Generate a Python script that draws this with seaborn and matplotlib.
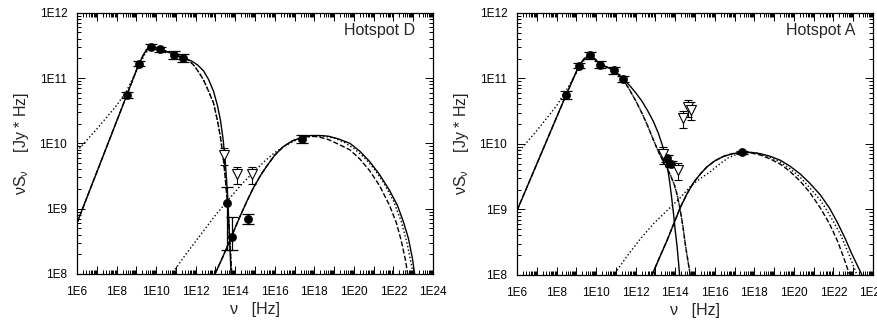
import numpy as np
import matplotlib
matplotlib.use("Agg")
import matplotlib.pyplot as plt
import matplotlib.ticker as mticker
import pandas as pd
import seaborn as sns

# ---- Hotspot D (log10 nu, log10 nuS_nu) ----
d_pts_x = [8.52, 9.13, 9.73, 10.21, 10.91, 11.38, 13.58, 13.82, 14.63, 17.37]
d_pts_y = [10.74, 11.22, 11.48, 11.44, 11.35, 11.31, 9.09, 8.57, 8.84, 10.07]
d_pts_up = [0.05, 0.04, 0.04, 0.04, 0.06, 0.06, 0.24, 0.30, 0.08, 0.06]
d_pts_lo = [0.05, 0.04, 0.04, 0.04, 0.06, 0.06, 0.72, 0.20, 0.08, 0.06]
d_lim_x = [13.42, 14.11, 14.83]
d_lim_y = [9.82, 9.53, 9.53]

d_sync_solid_x = [6.00, 8.52, 9.13, 9.40, 9.60, 9.75, 9.95, 10.21, 10.60, 10.91, 11.38, 11.80,
                  12.10, 12.40, 12.65, 12.90, 13.10, 13.25, 13.38, 13.48, 13.56, 13.63, 13.71, 13.79]
d_sync_solid_y = [8.78, 10.74, 11.22, 11.38, 11.46, 11.49, 11.47, 11.44, 11.40, 11.36, 11.31, 11.26,
                  11.20, 11.11, 10.98, 10.80, 10.58, 10.36, 10.08, 9.78, 9.45, 9.10, 8.55, 8.00]
d_sync_dash_x = [6.00, 8.52, 9.13, 9.40, 9.60, 9.75, 9.95, 10.21, 10.60, 10.91, 11.38, 11.63,
                 11.95, 12.20, 12.40, 12.65, 12.90, 13.10, 13.25, 13.38, 13.48, 13.58, 13.66,
                 13.74, 13.82]
d_sync_dash_y = [8.78, 10.74, 11.22, 11.38, 11.46, 11.49, 11.47, 11.44, 11.40, 11.36, 11.31, 11.28,
                 11.18, 11.07, 10.97, 10.80, 10.62, 10.35, 10.10, 9.82, 9.52, 9.18, 8.85,
                 8.45, 8.00]
d_sync_dot_x = [6.00, 7.00, 8.00, 8.50, 9.00, 9.40, 9.75, 9.95, 10.21, 10.60, 10.91, 11.38, 11.63,
                11.95, 12.20, 12.40, 12.65, 12.90, 13.10, 13.25, 13.38, 13.48, 13.58, 13.66,
                13.74, 13.82]
d_sync_dot_y = [9.88, 10.22, 10.58, 10.80, 11.10, 11.35, 11.49, 11.47, 11.44, 11.40, 11.36, 11.31,
                11.28, 11.18, 11.07, 10.97, 10.80, 10.62, 10.35, 10.10, 9.82, 9.52, 9.18, 8.85,
                8.45, 8.00]
d_ic_solid_x = [12.98, 13.40, 13.79, 14.24, 14.60, 14.92, 15.30, 15.59, 16.00, 16.43, 16.90, 17.37,
                17.80, 18.28, 18.70, 19.20, 19.80, 20.30, 20.80, 21.30, 21.80, 22.20, 22.50,
                22.75, 22.95, 23.07]
d_ic_solid_y = [8.00, 8.28, 8.56, 8.88, 9.12, 9.32, 9.52, 9.65, 9.82, 9.95, 10.04, 10.09,
                10.12, 10.12, 10.11, 10.07, 10.00, 9.88, 9.72, 9.52, 9.28, 9.05, 8.80,
                8.55, 8.25, 8.00]
d_ic_dash_x = [12.98, 13.40, 13.79, 14.24, 14.60, 14.92, 15.30, 15.59, 16.00, 16.43, 16.90, 17.37,
               17.80, 18.20, 18.70, 19.20, 19.80, 20.30, 20.80, 21.30, 21.80, 22.15, 22.40,
               22.60, 22.72]
d_ic_dash_y = [8.00, 8.28, 8.56, 8.88, 9.12, 9.32, 9.52, 9.65, 9.82, 9.95, 10.04, 10.09,
               10.11, 10.10, 10.06, 9.99, 9.90, 9.76, 9.58, 9.35, 9.05, 8.78, 8.50,
               8.22, 8.00]
d_ic_dot_x = [10.96, 11.50, 12.00, 12.50, 13.00, 13.50, 14.00, 14.50, 15.00, 15.50, 16.00, 16.50,
              17.00, 17.50, 18.00, 18.50, 19.00, 19.50, 20.00, 20.50, 21.00, 21.50, 22.00,
              22.40, 22.70, 22.90, 23.00]
d_ic_dot_y = [8.07, 8.30, 8.50, 8.70, 8.90, 9.08, 9.26, 9.43, 9.58, 9.73, 9.86, 9.96,
              10.04, 10.09, 10.11, 10.11, 10.08, 10.02, 9.92, 9.79, 9.62, 9.40, 9.12,
              8.80, 8.45, 8.15, 8.00]

# ---- Hotspot A ----
a_pts_x = [8.49, 9.13, 9.71, 10.18, 10.92, 11.36, 13.58, 13.80, 17.39]
a_pts_y = [10.75, 11.19, 11.35, 11.21, 11.12, 10.99, 9.78, 9.69, 9.87]
a_pts_up = [0.06, 0.04, 0.05, 0.05, 0.05, 0.05, 0.05, 0.05, 0.02]
a_pts_lo = [0.06, 0.04, 0.05, 0.05, 0.05, 0.05, 0.05, 0.05, 0.02]
a_lim_x = [13.38, 14.12, 14.39, 14.63, 14.80]
a_lim_y = [9.84, 9.60, 10.39, 10.56, 10.52]

a_sync_solid_x = [6.00, 8.49, 9.13, 9.40, 9.71, 9.95, 10.18, 10.92, 11.36, 11.70, 12.00, 12.30,
                  12.60, 12.90, 13.15, 13.35, 13.50, 13.62, 13.72, 13.82, 13.92, 14.00, 14.09,
                  14.16, 14.22]
a_sync_solid_y = [8.98, 10.75, 11.19, 11.30, 11.36, 11.29, 11.22, 11.12, 10.99, 10.89, 10.78, 10.66,
                  10.51, 10.34, 10.16, 9.98, 9.82, 9.62, 9.42, 9.18, 8.92, 8.68, 8.45,
                  8.22, 8.00]
a_sync_dash_x = [6.00, 8.49, 9.13, 9.40, 9.71, 9.95, 10.18, 10.92, 11.36, 11.70, 12.00, 12.30,
                 12.60, 12.90, 13.15, 13.35, 13.55, 13.75, 13.95, 14.10, 14.25, 14.40, 14.52,
                 14.65, 14.76]
a_sync_dash_y = [8.98, 10.75, 11.19, 11.30, 11.36, 11.29, 11.22, 11.12, 10.99, 10.82, 10.66, 10.48,
                 10.28, 10.06, 9.88, 9.76, 9.65, 9.53, 9.38, 9.22, 9.00, 8.72, 8.45,
                 8.20, 8.00]
a_sync_dot_x = [6.00, 7.00, 8.00, 8.50, 9.00, 9.40, 9.71, 9.95, 10.18, 10.92, 11.36, 11.70, 12.00,
                12.30, 12.60, 12.90, 13.15, 13.35, 13.55, 13.75, 13.95, 14.10, 14.25, 14.40,
                14.52, 14.65, 14.76]
a_sync_dot_y = [9.85, 10.20, 10.58, 10.82, 11.08, 11.28, 11.36, 11.29, 11.22, 11.12, 10.99, 10.82,
                10.66, 10.48, 10.28, 10.06, 9.88, 9.76, 9.65, 9.53, 9.38, 9.22, 9.00, 8.72,
                8.45, 8.20, 8.00]
a_ic_solid_x = [12.83, 13.20, 13.58, 13.90, 14.26, 14.60, 14.93, 15.30, 15.61, 16.00, 16.45, 16.90,
                17.39, 17.85, 18.30, 18.80, 19.31, 19.80, 20.32, 20.80, 21.34, 21.80, 22.20,
                22.60, 22.90, 23.20, 23.44]
a_ic_solid_y = [8.00, 8.26, 8.52, 8.76, 9.03, 9.24, 9.41, 9.55, 9.65, 9.74, 9.81, 9.85,
                9.87, 9.87, 9.85, 9.81, 9.75, 9.66, 9.54, 9.40, 9.22, 9.02, 8.80,
                8.55, 8.34, 8.15, 8.00]
a_ic_dash_x = [12.83, 13.20, 13.58, 13.90, 14.26, 14.60, 14.93, 15.30, 15.61, 16.00, 16.45, 16.90,
               17.39, 17.85, 18.30, 18.80, 19.31, 19.80, 20.32, 20.80, 21.34, 21.80, 22.20,
               22.50, 22.82]
a_ic_dash_y = [8.00, 8.26, 8.52, 8.76, 9.03, 9.24, 9.41, 9.55, 9.65, 9.74, 9.81, 9.85,
               9.87, 9.86, 9.83, 9.77, 9.69, 9.58, 9.43, 9.26, 9.02, 8.78, 8.52,
               8.28, 8.00]
a_ic_dot_x = [11.06, 11.60, 12.24, 12.90, 13.58, 14.26, 14.80, 15.27, 15.80, 16.28, 16.70, 17.12,
              17.60, 18.13, 18.70, 19.31, 19.80, 20.32, 20.80, 21.34, 21.80, 22.35, 22.80, 23.19]
a_ic_dot_y = [8.07, 8.30, 8.55, 8.78, 8.98, 9.18, 9.36, 9.47, 9.58, 9.70, 9.79, 9.84,
              9.87, 9.86, 9.81, 9.72, 9.62, 9.49, 9.33, 9.14, 8.92, 8.62, 8.30, 8.00]

x_ticks = list(range(6, 25, 2))
y_ticks = list(range(8, 13))

sns.set_theme(style="ticks")
plt.rcParams['font.family'] = ['Liberation Sans', 'DejaVu Sans']
plt.rcParams['mathtext.fontset'] = 'custom'
plt.rcParams['mathtext.rm'] = 'Liberation Sans'
plt.rcParams['mathtext.it'] = 'Liberation Sans'


def curve(ax, lx, ly, style):
    df = pd.DataFrame({"nu": np.power(10.0, lx), "s": np.power(10.0, ly)})
    sns.lineplot(data=df, x="nu", y="s", ax=ax, sort=False, estimator=None,
                 color="black", linewidth=1.0, linestyle=style)


def panel(ax, title, px, py, up, lo, limx, limy, curves):
    for lx, ly, st in curves:
        curve(ax, lx, ly, st)
    px = np.array(px)
    py = np.array(py)
    yv = np.power(10.0, py)
    yerr = [yv - np.power(10.0, py - np.array(lo)), np.power(10.0, py + np.array(up)) - yv]
    ax.errorbar(np.power(10.0, px), yv, yerr=yerr, fmt="none", ecolor="black",
                elinewidth=0.9, capsize=4.5, capthick=0.9)
    sns.scatterplot(x=np.power(10.0, px), y=yv, ax=ax, color="black", s=34,
                    edgecolor="black", zorder=5)
    lv = np.power(10.0, np.array(limy))
    ax.errorbar(np.power(10.0, limx), lv, yerr=[lv * 0.3, lv * 0.3], fmt="v",
                mfc="white", mec="black", ms=7.5, mew=0.8, ecolor="black",
                elinewidth=0.8, capsize=3, capthick=0.8, zorder=6)

    ax.set_xscale("log")
    ax.set_yscale("log")
    ax.set_xlim(1e6, 1e24)
    ax.set_ylim(1e8, 1e12)
    ax.xaxis.set_major_locator(mticker.FixedLocator([10.0 ** k for k in range(6, 25)]))
    ax.xaxis.set_major_formatter(mticker.FuncFormatter(
        lambda v, p: "1E%d" % round(np.log10(v)) if round(np.log10(v)) in x_ticks else ""))
    ax.yaxis.set_major_locator(mticker.FixedLocator([10.0 ** k for k in y_ticks]))
    ax.yaxis.set_major_formatter(mticker.FuncFormatter(
        lambda v, p: "1E%d" % round(np.log10(v))))
    ax.xaxis.set_minor_locator(mticker.LogLocator(base=10, subs=np.arange(2, 10), numticks=100))
    ax.yaxis.set_minor_locator(mticker.LogLocator(base=10, subs=np.arange(2, 10), numticks=100))
    ax.xaxis.set_minor_formatter(mticker.NullFormatter())
    ax.yaxis.set_minor_formatter(mticker.NullFormatter())
    ax.tick_params(which="both", direction="in", top=True, right=True,
                   labelsize=8.5, colors="black", width=0.7)
    ax.tick_params(which="major", length=6)
    ax.tick_params(axis="x", which="major", pad=9)
    ax.tick_params(axis="y", which="major", pad=7)
    ax.tick_params(which="minor", length=3)
    for sp in ax.spines.values():
        sp.set_linewidth(0.9)
        sp.set_color("black")
    ax.set_xlabel("ν   [Hz]", fontsize=11.5, labelpad=2.5)
    ax.set_ylabel("νS$_{ν}$    [Jy * Hz]", fontsize=11.5, labelpad=6)
    ax.text(0.95, 0.96, title, transform=ax.transAxes, ha="right", va="top", fontsize=11.5)


fig = plt.figure(figsize=(8.78, 3.2), dpi=100)
ax1 = fig.add_axes([0.0877, 0.144, 0.4055, 0.816])
ax2 = fig.add_axes([0.5888, 0.141, 0.4055, 0.819])

panel(ax1, "Hotspot D", d_pts_x, d_pts_y, d_pts_up, d_pts_lo, d_lim_x, d_lim_y,
      [(d_sync_solid_x, d_sync_solid_y, "-"), (d_sync_dash_x, d_sync_dash_y, "--"),
       (d_sync_dot_x, d_sync_dot_y, ":"), (d_ic_solid_x, d_ic_solid_y, "-"),
       (d_ic_dash_x, d_ic_dash_y, "--"), (d_ic_dot_x, d_ic_dot_y, ":")])
panel(ax2, "Hotspot A", a_pts_x, a_pts_y, a_pts_up, a_pts_lo, a_lim_x, a_lim_y,
      [(a_sync_solid_x, a_sync_solid_y, "-"), (a_sync_dash_x, a_sync_dash_y, "--"),
       (a_sync_dot_x, a_sync_dot_y, ":"), (a_ic_solid_x, a_ic_solid_y, "-"),
       (a_ic_dash_x, a_ic_dash_y, "--"), (a_ic_dot_x, a_ic_dot_y, ":")])

fig.savefig("out.png", dpi=100)
